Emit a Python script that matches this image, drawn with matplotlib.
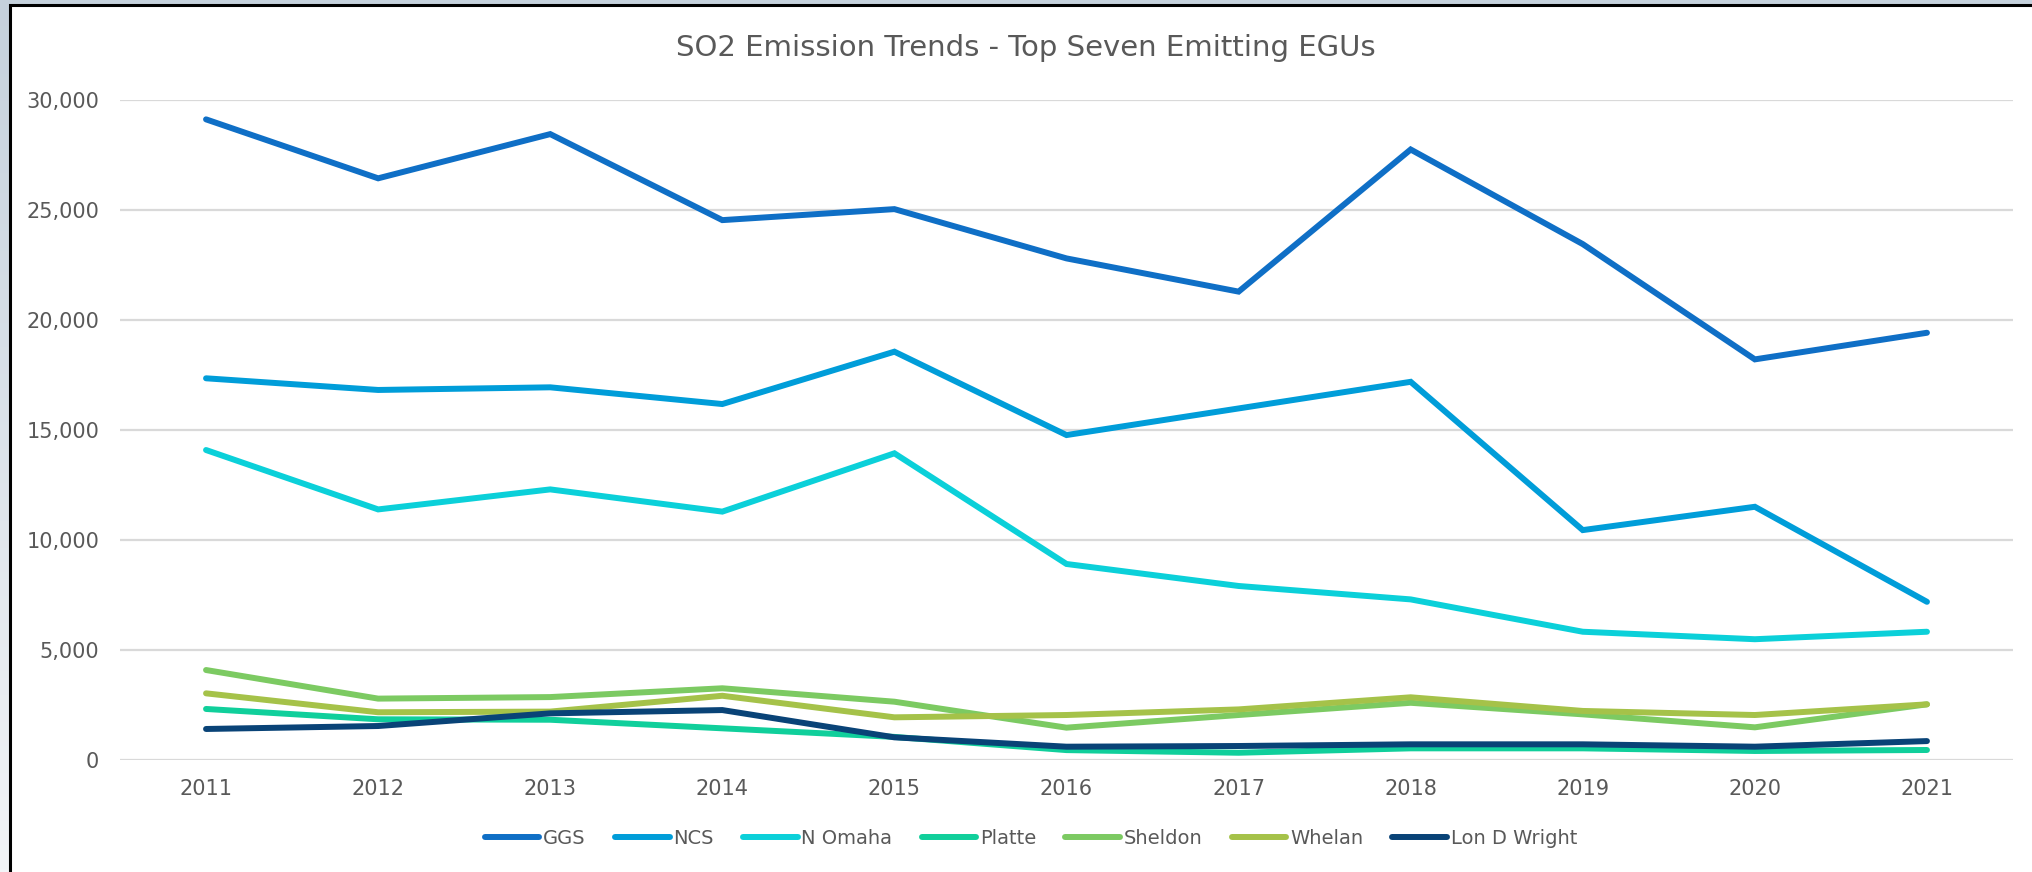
import numpy as np
import matplotlib.pyplot as plt
from matplotlib.patches import Rectangle
from matplotlib.ticker import FuncFormatter

plt.rcParams['font.family'] = ['DejaVu Sans']

years = ['2011', '2012', '2013', '2014', '2015', '2016', '2017', '2018', '2019', '2020', '2021']

ggs = [29120, 26440, 28450, 24540, 25040, 22800, 21290, 27750, 23450, 18210, 19420]
ncs = [17350, 16820, 16940, 16180, 18560, 14770, 15980, 17190, 10450, 11510, 7190]
n_omaha = [14090, 11390, 12300, 11290, 13940, 8910, 7910, 7300, 5830, 5490, 5830]
platte = [2320, 1850, 1830, 1440, 1050, 450, 330, 530, 530, 410, 455]
sheldon = [4090, 2790, 2860, 3260, 2650, 1470, 2045, 2600, 2075, 1485, 2530]
whelan = [3030, 2170, 2200, 2920, 1940, 2045, 2300, 2850, 2230, 2045, 2530]
lon_d_wright = [1410, 1545, 2120, 2270, 1030, 605, 636, 713, 713, 605, 860]

series = [
    ('GGS', ggs, '#0F6FC6'),
    ('NCS', ncs, '#009DD9'),
    ('N Omaha', n_omaha, '#0BD0D9'),
    ('Platte', platte, '#10CF9B'),
    ('Sheldon', sheldon, '#7CCA62'),
    ('Whelan', whelan, '#A5C249'),
    ('Lon D Wright', lon_d_wright, '#094377'),
]

text_col = '#595959'

fig = plt.figure(figsize=(20.33, 8.72), dpi=100)

# background: slate gradient on the left/top, white chart box with black border
bg = fig.add_axes([0, 0, 1, 1], zorder=-10)
grad = np.linspace(0, 1, 256).reshape(-1, 1)
bg.imshow(grad, aspect='auto', cmap=plt.matplotlib.colors.LinearSegmentedColormap.from_list(
    'bg', ['#c5d1dc', '#f2f4f7']), extent=[0, 1, 0, 1], origin='upper')
bg.add_patch(Rectangle((10 / 2033, -0.1), 1.1, 1 - 5 / 872 + 0.1, facecolor='white',
                       edgecolor='black', linewidth=2.2))
bg.set_xlim(0, 1)
bg.set_ylim(0, 1)
bg.axis('off')

ax = fig.add_axes([120 / 2033, 1 - 760 / 872, (2013 - 120) / 2033, 660 / 872])
ax.set_facecolor('none')

x = np.arange(len(years))
for name, vals, col in series:
    ax.plot(x, vals, color=col, lw=4.3, label=name, solid_capstyle='round',
            solid_joinstyle='miter')

ax.set_xlim(-0.5, len(years) - 0.5)
ax.set_ylim(0, 30000)
ax.set_yticks(range(0, 30001, 5000))
ax.yaxis.set_major_formatter(FuncFormatter(lambda v, p: f'{int(v):,}'))
ax.set_xticks(x)
ax.set_xticklabels(years)
ax.grid(axis='y', color='#d9d9d9', lw=1.6)
ax.set_axisbelow(True)
for s in ax.spines.values():
    s.set_visible(False)
ax.tick_params(axis='both', length=0, labelsize=15, labelcolor=text_col)
ax.tick_params(axis='y', pad=15)
ax.tick_params(axis='x', pad=14)

fig.text(1026 / 2033, 1 - 48 / 872, 'SO2 Emission Trends - Top Seven Emitting EGUs',
         ha='center', va='center', fontsize=21, color=text_col)

ax.legend(loc='center', bbox_to_anchor=(1031 / 2033, 1 - 838 / 872),
          bbox_transform=fig.transFigure, ncol=7, frameon=False, fontsize=14,
          labelcolor=text_col, handlelength=2.8, handletextpad=0.2, columnspacing=1.5)

fig.savefig('out.png', dpi=100)
